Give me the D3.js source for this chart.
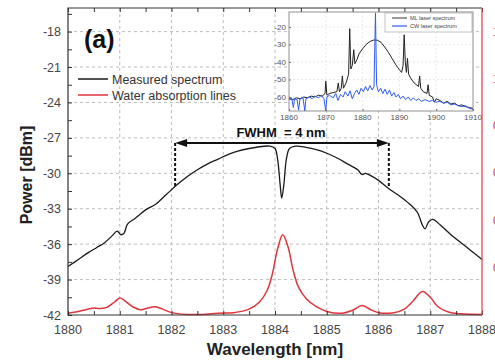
<!DOCTYPE html>
<html>
<head>
<meta charset="utf-8">
<script src="https://cdn.jsdelivr.net/npm/d3@7"></script>
<style>
  body { margin: 0; background: #fff; }
  svg { display: block; font-family: "Liberation Sans", Arial, sans-serif; }
</style>
</head>
<body>
<script>
var width = 495,
  height = 361;

// main spectrum (nm, dBm)
var specWl = [1880.0, 1880.2, 1880.4, 1880.55, 1880.7, 1880.85, 1880.95, 1881.02, 1881.08, 1881.15, 1881.3, 1881.5, 1881.7, 1881.9,
  1882.1, 1882.3, 1882.5, 1882.7, 1882.9, 1883.1, 1883.3, 1883.5, 1883.7, 1883.9, 1884.0, 1884.05, 1884.1, 1884.13, 1884.17,
  1884.22, 1884.28, 1884.4, 1884.6, 1884.8, 1885.0, 1885.2, 1885.4, 1885.6, 1885.68, 1885.75, 1885.85, 1886.0, 1886.2, 1886.4,
  1886.6, 1886.75, 1886.85, 1886.9, 1886.97, 1887.05, 1887.2, 1887.4, 1887.6, 1887.8, 1888.0];
var specDbm = [-37.9, -37.3, -36.7, -36.3, -35.9, -35.3, -34.9, -35.2, -35.1, -34.3, -33.8, -33.1, -32.6, -31.8,
  -31.0, -30.3, -29.7, -29.2, -28.8, -28.4, -28.1, -27.9, -27.75, -27.7, -27.9, -28.8, -31.0, -32.1, -31.0,
  -28.8, -27.9, -27.7, -27.8, -28.0, -28.3, -28.7, -29.2, -29.7, -30.1, -30.0, -30.2, -30.6, -31.3, -31.9,
  -32.6, -33.3, -34.4, -34.7, -34.1, -33.9, -34.4, -35.2, -35.9, -36.6, -37.3];

// water absorption lines (drawn on the power axis)
var waterWl = [1880.0, 1880.2, 1880.4, 1880.5, 1880.6, 1880.75, 1880.9, 1881.0, 1881.1, 1881.25, 1881.4, 1881.55, 1881.68, 1881.8,
  1882.0, 1882.3, 1882.6, 1882.9, 1883.2, 1883.5, 1883.7, 1883.85, 1883.95, 1884.05, 1884.15, 1884.25, 1884.35, 1884.45, 1884.6,
  1884.8, 1885.0, 1885.3, 1885.5, 1885.68, 1885.85, 1886.0, 1886.3, 1886.5, 1886.65, 1886.85, 1887.0, 1887.15, 1887.35, 1887.6, 1888.0];
var waterVal = [-41.85, -41.7, -41.5, -41.4, -41.45, -41.35, -40.9, -40.55, -40.8, -41.3, -41.55, -41.4, -41.3, -41.45,
  -41.8, -41.95, -41.95, -41.85, -41.8, -41.5, -40.9, -39.9, -38.5, -36.4, -35.2, -36.2, -38.2, -39.6, -40.6,
  -41.3, -41.7, -41.85, -41.6, -41.2, -41.55, -41.8, -41.8, -41.5, -40.9, -40.0, -40.5, -41.3, -41.75, -41.9, -41.95];

// inset: mode-locked spectrum
var mlWl = [1860, 1861, 1862, 1863, 1864, 1865, 1866, 1867, 1868, 1869, 1869.8, 1870.0, 1870.3, 1871, 1872, 1873, 1873.4, 1873.7,
  1874.2, 1874.5, 1874.8, 1875.5, 1876.2, 1876.5, 1876.8, 1877.2, 1877.6, 1877.9, 1878.5, 1879, 1880, 1881, 1882, 1883, 1884,
  1885, 1886, 1887, 1888, 1889, 1890, 1890.6, 1891, 1891.3, 1891.6, 1891.9, 1892.2, 1892.5, 1893, 1894, 1895.2, 1895.5, 1895.8,
  1896.5, 1897.5, 1897.8, 1898.1, 1899, 1899.5, 1900, 1901, 1902, 1903, 1904, 1905, 1906, 1907, 1908, 1909, 1910];
var mlDbm = [-61, -61.5, -60.5, -61, -60, -60.5, -59.5, -60, -59, -59.5, -58, -51, -59, -58, -57.5, -57, -52, -57,
  -55, -48, -55, -52, -47, -21, -44, -42, -33, -41, -38.5, -35.5, -32.5, -30, -28.3, -27.5, -27.6,
  -28.8, -31.5, -34.5, -38, -41.5, -44.5, -46, -42, -24.5, -40, -46, -38, -47, -49, -52, -54, -48, -55,
  -57, -58, -53, -59, -60, -63, -61, -62, -63.5, -62.5, -64, -63.5, -65, -64.5, -65.5, -66, -66.5];

// inset: CW spectrum
var cwWl = [1860, 1860.7, 1861.2, 1861.5, 1862.2, 1862.6, 1863, 1863.8, 1864.3, 1864.6, 1865.5, 1866.3, 1867, 1868, 1868.8, 1869.5,
  1870, 1870.3, 1871, 1872, 1872.7, 1873.3, 1874, 1874.7, 1875.3, 1876, 1876.6, 1877.2, 1877.8, 1878.4, 1879, 1879.6, 1880.2,
  1880.8, 1881.4, 1882, 1882.6, 1883.1, 1883.5, 1883.8, 1884.3, 1884.9, 1885.5, 1886.1, 1886.7, 1887.3, 1887.9, 1888.5, 1889.1,
  1889.7, 1890.3, 1891, 1891.7, 1892.4, 1893.1, 1893.8, 1894.5, 1895.2, 1896, 1897, 1898, 1899, 1900, 1901, 1902, 1903, 1904,
  1905, 1906, 1907, 1908, 1909, 1910];
var cwDbm = [-61.5, -60.5, -66, -61, -61.5, -67.5, -61, -60.5, -68, -61, -60, -61, -59.5, -60.5, -59, -61,
  -68, -60, -59, -60.5, -58, -62, -58.5, -60, -57, -59.5, -56.5, -61, -58, -56, -58.5, -55, -57,
  -54, -56.5, -53.5, -56, -54, -12, -53, -57, -55, -58, -55.5, -58.5, -56, -59.5, -57.5, -60,
  -58.5, -61, -59.5, -61.5, -60, -62, -60.5, -62, -61, -62.5, -61.5, -62.5, -62, -63, -62.5, -63.5, -63, -64.5,
  -64, -65, -65.5, -65, -66.5, -67];

var xTicks = [1880, 1881, 1882, 1883, 1884, 1885, 1886, 1887, 1888];
var yTicks = [-42, -39, -36, -33, -30, -27, -24, -21, -18];
var insetXTicks = [1860, 1870, 1880, 1890, 1900, 1910];
var insetYTicks = [-60, -50, -40, -30, -20];
var rightTicks = ["0.2", "0.4", "0.6", "0.8", "1.0", "1.2"];
var rightVals = [0.2, 0.4, 0.6, 0.8, 1.0, 1.2];

var seriesNames = ["Measured spectrum", "Water absorption lines"];
var insetNames = ["ML laser spectrum", "CW laser spectrum"];
var fwhm = [1882.07, 1886.2];

var pL = 68, pR = 482, pT = 8, pB = 315;

var svg = d3.select('body').append('svg')
  .attr('width', width)
  .attr('height', height);

var x = d3.scaleLinear().domain([1880, 1888]).range([pL, pR]);
var y = d3.scaleLinear().domain([-42, -16]).range([pB, pT]);
var yr = d3.scaleLinear().domain([0, 1.3]).range([pB, pT]);

// grid
var grid = svg.append("g").attr("stroke", "#bdbdbd").attr("stroke-dasharray", "3,3").attr("stroke-width", 1);
grid.selectAll("line.v").data(xTicks.slice(1, -1)).enter().append("line")
  .attr("x1", function(d) { return x(d); }).attr("x2", function(d) { return x(d); })
  .attr("y1", pT).attr("y2", pB);
grid.selectAll("line.h").data(yTicks.slice(1)).enter().append("line")
  .attr("x1", pL).attr("x2", pR)
  .attr("y1", function(d) { return y(d); }).attr("y2", function(d) { return y(d); });

// curves
var line = d3.line()
  .x(function(d) { return x(d[0]); })
  .y(function(d) { return y(d[1]); })
  .curve(d3.curveCatmullRom);

svg.append("path")
  .datum(d3.zip(waterWl, waterVal))
  .attr("fill", "none").attr("stroke", "#e0353d").attr("stroke-width", 1.5)
  .attr("d", line);

svg.append("path")
  .datum(d3.zip(specWl, specDbm))
  .attr("fill", "none").attr("stroke", "#1a1a1a").attr("stroke-width", 1.3)
  .attr("d", line);

// axes (ticks inward)
svg.append("g").attr("transform", "translate(0," + pB + ")")
  .call(d3.axisBottom(x).tickValues(d3.range(1880, 1888.01, 0.5)).tickSize(-4).tickFormat(""))
  .call(function(g) { g.select(".domain").remove(); g.selectAll("line").attr("stroke", "#333"); });
svg.append("g").attr("transform", "translate(0," + pT + ")")
  .call(d3.axisTop(x).tickValues(d3.range(1880, 1888.01, 0.5)).tickSize(-4).tickFormat(""))
  .call(function(g) { g.select(".domain").remove(); g.selectAll("line").attr("stroke", "#333"); });
svg.append("g").attr("transform", "translate(" + pL + ",0)")
  .call(d3.axisLeft(y).tickValues(d3.range(-42, -16, 1.5)).tickSize(-4).tickFormat(""))
  .call(function(g) { g.select(".domain").remove(); g.selectAll("line").attr("stroke", "#333"); });

svg.selectAll("text.xt").data(xTicks).enter().append("text")
  .attr("x", function(d) { return x(d); }).attr("y", 334)
  .attr("text-anchor", "middle").attr("font-size", 12.5).attr("fill", "#444")
  .text(function(d) { return d; });
svg.selectAll("text.yt").data(yTicks).enter().append("text")
  .attr("x", 61).attr("y", function(d) { return y(d) + 4.5; })
  .attr("text-anchor", "end").attr("font-size", 12.5).attr("fill", "#444")
  .text(function(d) { return d; });

// frame
svg.append("path")
  .attr("d", "M" + pR + "," + pT + "H" + pL + "V" + pB + "H" + pR)
  .attr("fill", "none").attr("stroke", "#333").attr("stroke-width", 1.2);
svg.append("line")
  .attr("x1", pR).attr("x2", pR).attr("y1", pT).attr("y2", pB)
  .attr("stroke", "#e8373f").attr("stroke-width", 1.2);
// right-hand red axis: its labels fall mostly outside the picture
svg.selectAll("text.rt").data(rightVals).enter().append("text")
  .attr("x", 493).attr("y", function(d) { return yr(d) + 4; })
  .attr("font-size", 12).attr("fill", "#e0353d")
  .text(function(d, i) { return rightTicks[i]; });

// axis titles
svg.append("text")
  .attr("x", 275).attr("y", 355).attr("text-anchor", "middle")
  .attr("font-size", 17).attr("font-weight", "bold").attr("fill", "#222")
  .text("Wavelength [nm]");
svg.append("text")
  .attr("transform", "translate(32,175) rotate(-90)").attr("text-anchor", "middle")
  .attr("font-size", 16).attr("font-weight", "bold").attr("fill", "#222")
  .text("Power [dBm]");

svg.append("text").attr("x", 84).attr("y", 48)
  .attr("font-size", 25).attr("font-weight", "bold").attr("fill", "#111")
  .text("(a)");

// legend
var legColors = ["#1a1a1a", "#e0353d"];
var leg = svg.selectAll("g.leg").data(seriesNames).enter().append("g")
  .attr("transform", function(d, i) { return "translate(78," + (79 + i * 16) + ")"; });
leg.append("line").attr("x1", 0).attr("x2", 30)
  .attr("stroke", function(d, i) { return legColors[i]; }).attr("stroke-width", 1.5);
leg.append("text").attr("x", 34).attr("y", 4.5)
  .attr("font-size", 12.5).attr("fill", "#333")
  .text(function(d) { return d; });

// FWHM marker
var ay = 143;
svg.selectAll("line.fw").data(fwhm).enter().append("line")
  .attr("x1", function(d) { return x(d); }).attr("x2", function(d) { return x(d); })
  .attr("y1", ay).attr("y2", 188)
  .attr("stroke", "#111").attr("stroke-width", 2).attr("stroke-dasharray", "3,2");
svg.append("line")
  .attr("x1", x(fwhm[0]) + 8).attr("x2", x(fwhm[1]) - 8)
  .attr("y1", ay).attr("y2", ay)
  .attr("stroke", "#111").attr("stroke-width", 2);
svg.append("path")
  .attr("d", "M" + x(fwhm[0]) + "," + ay + "l12,-4v8z")
  .attr("fill", "#111");
svg.append("path")
  .attr("d", "M" + x(fwhm[1]) + "," + ay + "l-12,-4v8z")
  .attr("fill", "#111");
svg.append("text")
  .attr("x", 281).attr("y", 137).attr("text-anchor", "middle")
  .attr("font-size", 13).attr("font-weight", "bold").attr("fill", "#111")
  .attr("xml:space", "preserve")
  .text("FWHM  = 4 nm");

// inset
var il = 289, ir = 473, it = 12, ib = 111;
var ix = d3.scaleLinear().domain([1860, 1910]).range([il, ir]);
var iy = d3.scaleLinear().domain([-68, -11.5]).range([ib, it]);
var inset = svg.append("g");
inset.append("rect").attr("x", il).attr("y", it).attr("width", ir - il).attr("height", ib - it)
  .attr("fill", "#fff");
var ig = inset.append("g").attr("stroke", "#e3e3e3").attr("stroke-dasharray", "2,2").attr("stroke-width", 0.8);
ig.selectAll("line.v").data(insetXTicks.slice(1, -1)).enter().append("line")
  .attr("x1", function(d) { return ix(d); }).attr("x2", function(d) { return ix(d); })
  .attr("y1", it).attr("y2", ib);
ig.selectAll("line.h").data(insetYTicks).enter().append("line")
  .attr("x1", il).attr("x2", ir)
  .attr("y1", function(d) { return iy(d); }).attr("y2", function(d) { return iy(d); });

var iline = d3.line()
  .x(function(d) { return ix(d[0]); })
  .y(function(d) { return iy(d[1]); });
inset.append("path").datum(d3.zip(mlWl, mlDbm))
  .attr("fill", "none").attr("stroke", "#222").attr("stroke-width", 1).attr("d", iline);
inset.append("path").datum(d3.zip(cwWl, cwDbm))
  .attr("fill", "none").attr("stroke", "#2f5cf0").attr("stroke-width", 1).attr("d", iline);

inset.append("rect").attr("x", il).attr("y", it).attr("width", ir - il).attr("height", ib - it)
  .attr("fill", "none").attr("stroke", "#777").attr("stroke-width", 0.8);
inset.append("g").attr("transform", "translate(0," + ib + ")")
  .call(d3.axisBottom(ix).tickValues(insetXTicks).tickSize(-2).tickFormat(""))
  .call(function(g) { g.select(".domain").remove(); g.selectAll("line").attr("stroke", "#777"); });
inset.append("g").attr("transform", "translate(" + il + ",0)")
  .call(d3.axisLeft(iy).tickValues(insetYTicks).tickSize(-2).tickFormat(""))
  .call(function(g) { g.select(".domain").remove(); g.selectAll("line").attr("stroke", "#777"); });
inset.selectAll("text.ixt").data(insetXTicks).enter().append("text")
  .attr("x", function(d) { return ix(d); }).attr("y", 120)
  .attr("text-anchor", "middle").attr("font-size", 8).attr("fill", "#555")
  .text(function(d) { return d; });
inset.selectAll("text.iyt").data(insetYTicks).enter().append("text")
  .attr("x", il - 3).attr("y", function(d) { return iy(d) + 3; })
  .attr("text-anchor", "end").attr("font-size", 8).attr("fill", "#555")
  .text(function(d) { return d; });

// inset legend
inset.append("rect").attr("x", 385).attr("y", 13).attr("width", 87).attr("height", 19)
  .attr("fill", "#fff").attr("stroke", "#999").attr("stroke-width", 0.6);
var insetColors = ["#555", "#2f5cf0"];
var il2 = inset.selectAll("g.ileg").data(insetNames).enter().append("g")
  .attr("transform", function(d, i) { return "translate(392," + (18 + i * 8) + ")"; });
il2.append("line").attr("x1", 0).attr("x2", 15)
  .attr("stroke", function(d, i) { return insetColors[i]; }).attr("stroke-width", 1.2);
il2.append("text").attr("x", 18).attr("y", 2.2)
  .attr("font-size", 5.5).attr("fill", "#444")
  .text(function(d) { return d; });
</script>
</body>
</html>
